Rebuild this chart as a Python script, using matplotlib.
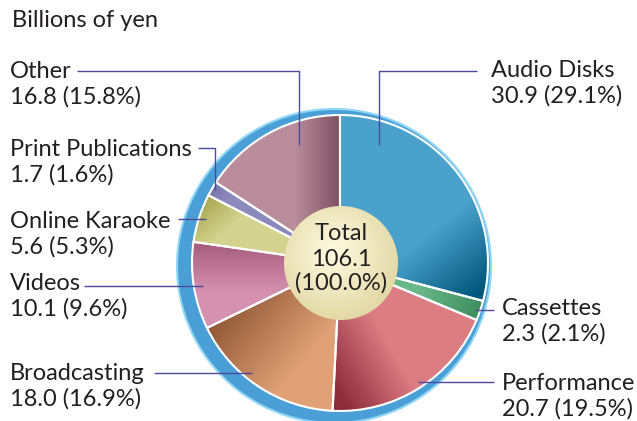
import matplotlib
matplotlib.use("Agg")
import matplotlib.pyplot as plt
import numpy as np
from matplotlib.colors import to_rgb
from matplotlib.patches import Circle

# data
labels = ["Audio Disks", "Cassettes", "Performance", "Broadcasting",
          "Videos", "Online Karaoke", "Print Publications", "Other"]
values = [30.9, 2.3, 20.7, 18.0, 10.1, 5.6, 1.7, 16.8]
shares = ["29.1%", "2.1%", "19.5%", "16.9%", "9.6%", "5.3%", "1.6%", "15.8%"]
total = 106.1
unit = "Billions of yen"

# gradient colours per slice (light / dark ends)
grad_colors = [("#4aa2cc", "#00557a"), ("#6ab88a", "#3a8a5a"),
               ("#8e2c3c", "#dc7d83"), ("#8a5230", "#e0a177"),
               ("#a45c7c", "#d690b0"), ("#a0a048", "#d3d28e"),
               ("#7474aa", "#8a8abc"), ("#b98d9c", "#7a4e5e")]
grad_pts = [((420, 240), (470, 302)), ((420, 285), (485, 312)),
            ((345, 405), (405, 370)), ((205, 318), (285, 385)),
            ((230, 242), (230, 292)), ((200, 195), (228, 228)),
            ((210, 185), (230, 195)), ((295, 170), (342, 170))]

W, H = 637, 421
txt = "#231f20"
line_c = "#4b4b9e"
plt.rcParams["font.family"] = ["Lato", "DejaVu Sans"]

fig = plt.figure(figsize=(W / 100, H / 100), dpi=100)
ax = fig.add_axes([0, 0, 1, 1])

cx, cy, r = 340, 263, 148

# blue rim behind the pie
ax.add_patch(Circle((334, 266), 157, facecolor="#4a9fd6", edgecolor="#8fd6f7",
                    lw=1.5, zorder=1))

wedges, _ = ax.pie(values, center=(cx, cy), radius=r, startangle=-90,
                   counterclock=True, colors=[c[1] for c in grad_colors],
                   wedgeprops=dict(edgecolor="white", linewidth=1.5))

ax.set_xlim(0, W)
ax.set_ylim(H, 0)
ax.set_aspect("equal")
ax.axis("off")

X, Y = np.meshgrid(np.arange(W) + 0.5, np.arange(H) + 0.5)


def grad_img(p1, p2, c1, c2):
    d = np.array(p2, float) - np.array(p1, float)
    t = ((X - p1[0]) * d[0] + (Y - p1[1]) * d[1]) / (d @ d)
    t = np.clip(t, 0, 1)[..., None]
    return (1 - t) * np.array(to_rgb(c1)) + t * np.array(to_rgb(c2))


for w, (c1, c2), (p1, p2) in zip(wedges, grad_colors, grad_pts):
    im = ax.imshow(grad_img(p1, p2, c1, c2), extent=(0, W, H, 0),
                   origin="upper", zorder=2.5, interpolation="bilinear")
    im.set_clip_path(w)
    w.set_facecolor("none")
    w.set_zorder(3)

# centre disc with radial shading
hub = Circle((cx + 1, cy), 57, facecolor="none", edgecolor="none", zorder=4)
ax.add_patch(hub)
rr = np.sqrt((X - 334) ** 2 + (Y - 252) ** 2) / 70
rr = np.clip(rr, 0, 1)[..., None]
hub_img = (1 - rr) * np.array(to_rgb("#fffbe2")) + rr * np.array(to_rgb("#e2d8a4"))
im = ax.imshow(hub_img, extent=(0, W, H, 0), origin="upper", zorder=4,
               interpolation="bilinear")
im.set_clip_path(hub)

fs = 17
ax.text(cx + 1, 240, "Total", ha="center", va="baseline", fontsize=fs, color=txt, zorder=5)
ax.text(cx + 1, 266, f"{total:.1f}", ha="center", va="baseline", fontsize=fs, color=txt, zorder=5)
ax.text(cx + 1, 290, "(100.0%)", ha="center", va="baseline", fontsize=fs, color=txt, zorder=5)

ax.text(12, 27, unit, ha="left", va="baseline", fontsize=fs, color=txt)

# label positions (x, baseline of first line) and leader lines
label_pos = [(491, 77, "left"), (502, 315, "left"), (502, 390, "left"),
             (10, 380, "left"), (10, 290, "left"), (10, 228, "left"),
             (10, 156, "left"), (10, 78, "left")]
leaders = [([379, 379, 477], [145, 71, 71]),
           ([476, 494], [310, 310]),
           ([418, 494], [382, 382]),
           ([154, 252], [373, 373]),
           ([84, 203], [286, 286]),
           ([178, 206], [219, 219]),
           ([198, 215, 215], [148, 148, 190]),
           ([77, 299, 299], [71, 71, 145])]

for lab, v, s, (x, y, ha), (lx, ly) in zip(labels, values, shares, label_pos, leaders):
    ax.text(x, y, lab, ha=ha, va="baseline", fontsize=fs, color=txt)
    ax.text(x, y + 26, f"{v:.1f} ({s})", ha=ha, va="baseline", fontsize=fs, color=txt)
    ax.plot(lx, ly, color=line_c, lw=1.0, zorder=6, solid_capstyle="butt")

fig.savefig("out.png", dpi=100)
